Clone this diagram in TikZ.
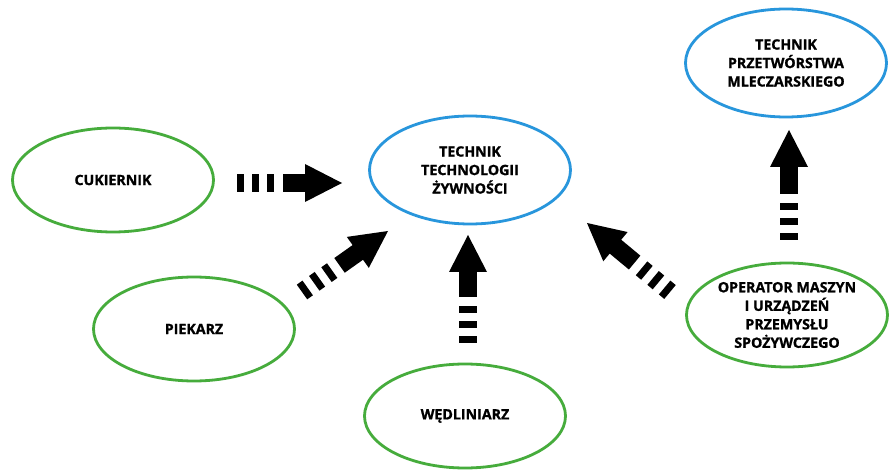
\documentclass[tikz,border=0pt]{standalone}
\usepackage{fontspec}
\setmainfont{Open Sans}[BoldFeatures={FakeBold=1.2}]
\usetikzlibrary{shapes.geometric,calc}
\definecolor{eblue}{RGB}{40,150,220}
\definecolor{egreen}{RGB}{70,172,60}
\newcommand\blockarrow[3]{%
  \coordinate (#3hb) at ($(#2)!37pt!(#1)$);
  \draw[line width=18pt, dash pattern=on 7pt off 8pt] (#1) -- ($(#1)!37pt!(#2)$);
  \draw[line width=18pt] ($(#1)!46pt!(#2)$) -- ($(#2)!36pt!(#1)$);
  \fill (#3hb) -- ($(#3hb)!19pt!90:(#2)$) -- (#2) -- ($(#3hb)!19pt!-90:(#2)$) -- cycle;
}
\begin{document}
\begin{tikzpicture}[x=1pt,y=-1pt,
  oval/.style={ellipse, line width=2.8pt, minimum width=201pt, minimum height=104pt,
    inner sep=0pt, align=center, font=\bfseries\fontsize{14.2}{18.5}\selectfont},
  greenoval/.style={oval, draw=egreen},
  blueoval/.style={oval, draw=eblue}]
\useasboundingbox[fill=white] (0,0) rectangle (889,470);
\node[greenoval] (cuk) at (113,180) {CUKIERNIK};
\node[blueoval, minimum height=108pt] (ttz) at (470,170) {TECHNIK\\TECHNOLOGII\\ŻYWNOŚCI};
\node[greenoval] (pie) at (194,329) {PIEKARZ};
\node[greenoval] (wed) at (465,416) {WĘDLINIARZ};
\node[greenoval] (ope) at (787,315) {OPERATOR MASZYN\\I URZĄDZEŃ\\PRZEMYSŁU\\SPOŻYWCZEGO};
\node[blueoval, minimum height=108pt] (tpm) at (786,63) {TECHNIK\\PRZETWÓRSTWA\\MLECZARSKIEGO};
\coordinate (a1t) at (237,183); \coordinate (a1h) at (342,183);
\coordinate (a2t) at (302,292); \coordinate (a2h) at (388,231);
\coordinate (a3t) at (468,343); \coordinate (a3h) at (468,235);
\coordinate (a4t) at (670,292); \coordinate (a4h) at (587,223);
\coordinate (a5t) at (789,240); \coordinate (a5h) at (789,130);
\blockarrow{a1t}{a1h}{a1}
\blockarrow{a2t}{a2h}{a2}
\blockarrow{a3t}{a3h}{a3}
\blockarrow{a4t}{a4h}{a4}
\blockarrow{a5t}{a5h}{a5}
\end{tikzpicture}
\end{document}
